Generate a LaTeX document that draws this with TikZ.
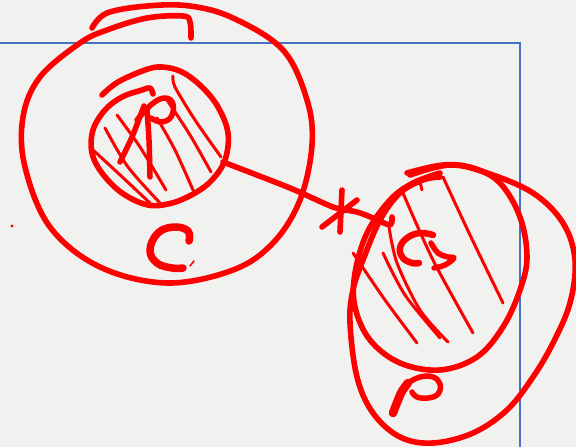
\documentclass[tikz,border=0pt]{standalone}
\definecolor{bg}{HTML}{F1F1F0}
\definecolor{ink}{HTML}{FF0000}
\definecolor{frame}{HTML}{4472C4}
\tikzset{
  pen/.style={draw=ink, line width=5.6pt, line cap=round, line join=round},
  hatch/.style={draw=ink, line width=3pt, line cap=round, line join=round},
  letter/.style={draw=ink, line width=6pt, line cap=round, line join=round},
  border/.style={draw=frame, line width=1.6pt}
}
\begin{document}
\begin{tikzpicture}[x=1pt,y=-1pt]
\fill[bg] (0,0) rectangle (576,447);
\useasboundingbox (0,0) rectangle (576,447);
% blue frame
\coordinate (fa) at (0,43);
\coordinate (fb) at (520,43);
\coordinate (fc) at (520,447);
\draw[border] (fa) -- (fb) -- (fc);
% small dot
\fill[ink] (12,226) circle (1.7);
% big circle C
\draw[pen] plot[smooth, tension=0.6] coordinates {(92,28) (107,13) (147,6) (190,6) (233,18) (283,50) (307,100) (312,145) (300,200) (273,243) (233,270) (167,283) (100,267) (50,227) (25,167) (23,117) (40,77) (80,43) (107,30) (147,18) (183,16) (190,22) (191,38)};
% inner circle R
\draw[pen] plot[smooth, tension=0.6] coordinates {(102,95) (118,82) (145,70) (162,67) (182,72) (202,87) (218,107) (228,133) (225,160) (212,180) (195,193) (172,203) (148,205) (122,193) (102,173) (92,153) (93,130) (105,110) (122,97) (142,90) (150,88) (153,94)};
% hatching in R
\draw[hatch] plot[smooth] coordinates {(173,76) (175,87) (195,120) (221,157)};
\draw[hatch] plot[smooth] coordinates {(167,100) (190,135) (211,172)};
\draw[hatch] plot[smooth] coordinates {(157,118) (175,150) (193,190)};
\draw[hatch] plot[smooth] coordinates {(117,115) (140,147) (166,190)};
\draw[hatch] plot[smooth] coordinates {(105,128) (128,167) (160,203)};
\draw[hatch] plot[smooth] coordinates {(93,150) (118,173) (150,203)};
% letter R
\draw[letter, line width=5.5pt] plot[smooth] coordinates {(120,162) (132,137) (144,106)};
\draw[letter, line width=5.5pt] plot[smooth] coordinates {(150,177) (149,140) (147,110)};
\draw[letter, line width=5.5pt] plot[smooth, tension=0.7] coordinates {(137,120) (152,104) (165,98) (173,104) (171,117) (161,122) (151,118)};
% letter C
\draw[letter, line width=7.5pt] plot[smooth, tension=0.7] coordinates {(189,241) (188,231) (174,227) (158,233) (150,250) (157,263) (172,268) (183,268)};
\draw[hatch, line width=1.5pt] (190,266) -- (194,261);
% connector with cross
\coordinate (ca) at (223,162);
\coordinate (cb) at (390,225);
\draw[pen] plot[smooth] coordinates {(ca) (290,188) (333,207) (357,212) (373,218) (cb) (392,217)};
\draw[pen] (342,190) -- (340,232);
\draw[pen] (322,227) -- (357,200);
% outer blob P
\draw[pen] plot[smooth, tension=0.6] coordinates {(410,175) (450,165) (487,173) (533,193) (563,223) (575,260) (570,303) (553,343) (533,377) (507,410) (473,433) (433,443) (400,437) (373,413) (357,377) (350,323) (353,290) (363,260) (380,220) (400,193) (423,180) (440,177)};
% inner circle Q
\draw[pen] plot[smooth, tension=0.6] coordinates {(407,173) (443,165) (473,168) (500,183) (520,217) (527,257) (520,290) (503,327) (477,357) (440,370) (400,363) (370,340) (355,307) (355,273) (367,233) (390,200) (413,183) (440,173)};
% hatching in Q
\draw[hatch] plot[smooth] coordinates {(443,177) (470,235) (503,303)};
\draw[hatch] plot[smooth] coordinates {(403,193) (433,260) (473,333)};
\draw[hatch] plot[smooth] coordinates {(389,227) (397,263) (420,310) (448,342)};
\draw[hatch] plot[smooth] coordinates {(383,253) (405,295) (440,338)};
\draw[hatch] plot[smooth] coordinates {(353,253) (385,300) (417,343)};
\draw[hatch] (420,182) -- (422,190);
% letter G
\draw[letter, line width=6.5pt] plot[smooth, tension=0.7] coordinates {(433,235) (420,233) (407,238) (400,248) (403,258) (412,263) (419,263)};
\draw[letter, line width=5.5pt] plot[smooth, tension=0.6] coordinates {(431,243) (438,253) (448,257) (454,258) (445,265) (434,268)};
% letter P
\draw[letter, line width=8.5pt] plot[smooth] coordinates {(393,413) (401,393) (408,383)};
\draw[letter, line width=5.5pt] plot[smooth, tension=0.7] coordinates {(408,383) (420,377) (433,377) (440,384) (438,394) (428,398) (417,397) (412,392)};
\end{tikzpicture}
\end{document}
